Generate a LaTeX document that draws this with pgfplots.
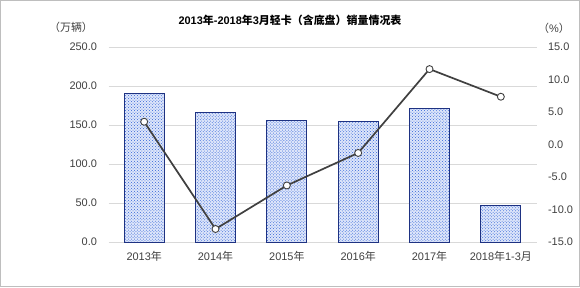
\documentclass[border=0pt]{standalone}
\usepackage{pgfplots}
\pgfplotsset{compat=1.18}
\usepackage{fontspec}
\setmainfont{Liberation Sans}
\newfontfamily\cjk{Noto Sans CJK SC}
\usetikzlibrary{patterns}
\definecolor{navy}{RGB}{30,50,130}
\definecolor{dotblue}{RGB}{50,100,215}
\definecolor{barfill}{RGB}{222,230,250}
\definecolor{linegray}{RGB}{64,64,64}
\definecolor{gridgray}{RGB}{217,217,217}
\definecolor{framegray}{RGB}{190,190,190}
\definecolor{txt}{RGB}{64,64,64}
\begin{document}
\begin{tikzpicture}[x=1bp,y=1bp]
\path[use as bounding box] (0,0) rectangle (580,287);
\draw[framegray, line width=1bp] (0.5,0.5) rectangle (579.5,286.5);
\node[font=\fontsize{11}{13}\selectfont\bfseries, text=black] at (290,267) {2013{\cjk 年}-2018{\cjk 年}3{\cjk 月轻卡（含底盘）销量情况表}};
\node[font=\fontsize{11}{13}\selectfont, text=txt] at (71,260) {\cjk （万辆）};
\node[font=\fontsize{11}{13}\selectfont, text=txt] at (554,259) {{\cjk （}\%{\cjk ）}};
\begin{axis}[
  at={(108.5bp,45bp)}, anchor=south west, scale only axis,
  width=428bp, height=195bp,
  xmin=-0.5, xmax=5.5, ymin=0, ymax=250,
  xtick={0,1,2,3,4,5},
  xticklabels={2013{\cjk 年},2014{\cjk 年},2015{\cjk 年},2016{\cjk 年},2017{\cjk 年},2018{\cjk 年}1-3{\cjk 月}},
  ytick={0,50,100,150,200,250},
  axis line style={draw=none},
  major tick length=0pt,
  ymajorgrids, grid style={gridgray, line width=0.8bp},
  tick label style={font=\fontsize{11}{13}\selectfont, text=txt},
  /pgf/number format/fixed, /pgf/number format/fixed zerofill,
  /pgf/number format/precision=1, /pgf/number format/assume math mode=true,
  yticklabel style={xshift=-8bp},
  xticklabel style={yshift=-6bp},
]
\addplot[ybar, bar width=40bp, draw=navy, line width=1bp, fill=barfill,
  postaction={pattern=crosshatch dots, pattern color=dotblue}]
  coordinates {(0,190.5) (1,166.3) (2,155.5) (3,154.2) (4,171.4) (5,47.0)};
\end{axis}
\begin{axis}[
  at={(108.5bp,45bp)}, anchor=south west, scale only axis,
  width=428bp, height=195bp,
  xmin=-0.5, xmax=5.5, ymin=-15, ymax=15,
  ytick={-15,-10,-5,0,5,10,15},
  axis y line*=right, hide x axis,
  axis line style={draw=none},
  major tick length=0pt,
  tick label style={font=\fontsize{11}{13}\selectfont, text=txt},
  /pgf/number format/fixed, /pgf/number format/fixed zerofill,
  /pgf/number format/precision=1, /pgf/number format/assume math mode=true,
  yticklabel style={xshift=8bp},
]
\addplot[linegray, line width=1.7bp, mark=*, mark size=3.5bp,
  mark options={fill=white, draw=linegray, line width=0.9bp}]
  coordinates {(0,3.5) (1,-13.0) (2,-6.3) (3,-1.3) (4,11.6) (5,7.35)};
\end{axis}
\end{tikzpicture}
\end{document}
